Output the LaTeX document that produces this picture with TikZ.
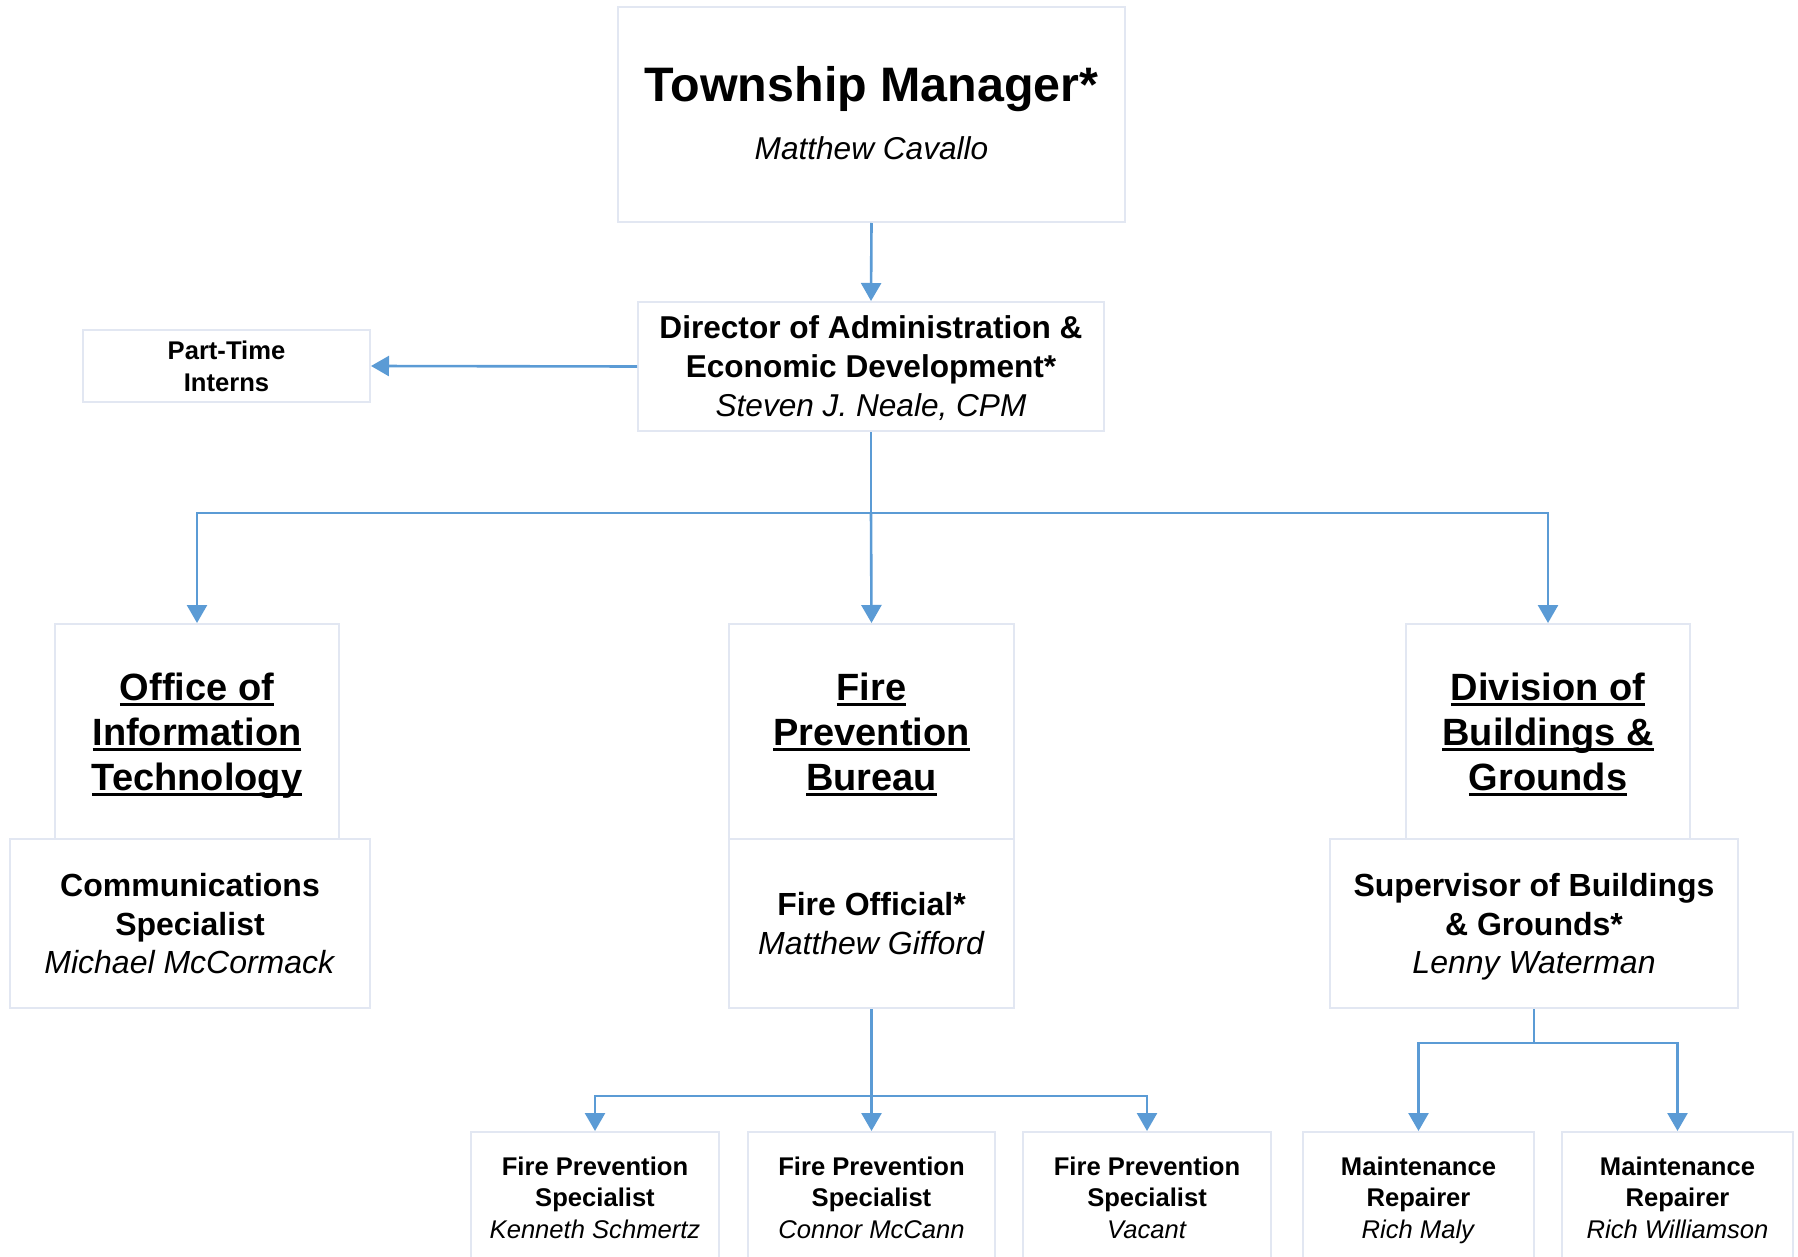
\documentclass[tikz,border=0pt]{standalone}
\usepackage{fontspec}
\setmainfont{Liberation Sans}
\usepackage{xcolor}
\usetikzlibrary{positioning, calc, arrows.meta}
\definecolor{linkblue}{HTML}{5B9BD5}
\definecolor{boxline}{HTML}{E2E7F2}
\newcommand{\deptul}[1]{\setbox0\hbox{#1}\leavevmode\rlap{\rule[-3pt]{\wd0}{1.5pt}}\box0}

\begin{document}
\begin{tikzpicture}[x=0.5pt, y=-0.5pt,
	box/.style={draw=boxline, line width=1pt, fill=white, align=center, inner sep=0pt, text depth=0pt},
	link/.style={draw=linkblue, line width=1.3pt},
	arr/.style={link, -{Triangle[width=10pt,length=9pt]}},
	smallfont/.style={font=\fontsize{12.8}{15.8}\selectfont},
	midfont/.style={font=\fontsize{16}{19.2}\selectfont},
	deptfont/.style={font=\fontsize{19}{22.6}\selectfont\bfseries}]
		\useasboundingbox (0,0) rectangle (1798,1257);
		
		% top levels
		\node[box, text depth=1.7pt, minimum width=253.5pt, minimum height=107.5pt] (tm) at (871.5,114.5)
			{{\fontsize{24.2}{28}\selectfont\bfseries Township Manager*}\\[11.5pt]
			{\fontsize{15.8}{19}\selectfont\itshape Matthew Cavallo}};
		\node[box, minimum width=233pt, minimum height=64.5pt, font=\fontsize{15.8}{19.5}\selectfont] (dir) at (871,366.5)
			{\textbf{Director of Administration \&}\\\textbf{Economic Development*}\\\textit{Steven J. Neale, CPM}};
		\node[box, smallfont, minimum width=143.5pt, minimum height=36pt] (pti) at (226.5,366)
			{\textbf{Part-Time}\\\textbf{Interns}};
		
		% departments
		\node[box, deptfont, minimum width=142pt, minimum height=107.5pt] (oit) at (197,731.5)
			{\deptul{Office of}\\\deptul{Information}\\\deptul{Technology}};
		\node[box, deptfont, minimum width=142.5pt, minimum height=107.5pt] (fpb) at (871.5,731.5)
			{\deptul{Fire}\\\deptul{Prevention}\\\deptul{Bureau}};
		\node[box, deptfont, minimum width=142pt, minimum height=107.5pt] (dbg) at (1548,731.5)
			{\deptul{Division of}\\\deptul{Buildings \&}\\\deptul{Grounds}};
		
		\node[box, midfont, minimum width=180pt, minimum height=84.5pt] (comm) at (190,923.5)
			{\textbf{Communications}\\\textbf{Specialist}\\\textit{Michael McCormack}};
		\node[box, midfont, minimum width=142.5pt, minimum height=84.5pt] (fo) at (871.5,923.5)
			{\textbf{Fire Official*}\\\textit{Matthew Gifford}};
		\node[box, midfont, minimum width=204pt, minimum height=84.5pt] (sup) at (1534,923.5)
			{\textbf{Supervisor of Buildings}\\\textbf{\& Grounds*}\\\textit{Lenny Waterman}};
		
		% bottom row
		\tikzset{staffbox/.style={box, smallfont, text depth=2.3pt, minimum height=68pt}}
		\node[staffbox, minimum width=124pt] (fps1) at (595,1200)
			{\textbf{Fire Prevention}\\\textbf{Specialist}\\\textit{Kenneth Schmertz}};
		\node[staffbox, minimum width=123.5pt] (fps2) at (871.5,1200)
			{\textbf{Fire Prevention}\\\textbf{Specialist}\\\textit{Connor McCann}};
		\node[staffbox, minimum width=124pt] (fps3) at (1147,1200)
			{\textbf{Fire Prevention}\\\textbf{Specialist}\\\textit{Vacant}};
		\node[staffbox, minimum width=115.5pt] (mr1) at (1418.5,1200)
			{\textbf{Maintenance}\\\textbf{Repairer}\\\textit{Rich Maly}};
		\node[staffbox, minimum width=115.5pt] (mr2) at (1677.5,1200)
			{\textbf{Maintenance}\\\textbf{Repairer}\\\textit{Rich Williamson}};
		
		% connectors
		\coordinate (busdir) at (871,513);
		\coordinate (busfo) at (871.5,1096);
		\coordinate (bussup) at (1534,1043);
		
		\draw[arr] (tm.south) -- (dir.north);
		\draw[arr] (dir.west) -- (pti.east);
		\draw[link] (dir.south) -- (busdir);
		\draw[arr] (busdir) -| (oit.north);
		\draw[arr] (busdir) -- (fpb.north);
		\draw[arr] (busdir) -| (dbg.north);
		
		\draw[link] (fo.south) -- (busfo);
		\draw[arr] (busfo) -| (fps1.north);
		\draw[arr] (busfo) -- (fps2.north);
		\draw[arr] (busfo) -| (fps3.north);
		
		\draw[link] (sup.south) -- (bussup);
		\draw[arr] (bussup) -| (mr1.north);
		\draw[arr] (bussup) -| (mr2.north);
\end{tikzpicture}
\end{document}
